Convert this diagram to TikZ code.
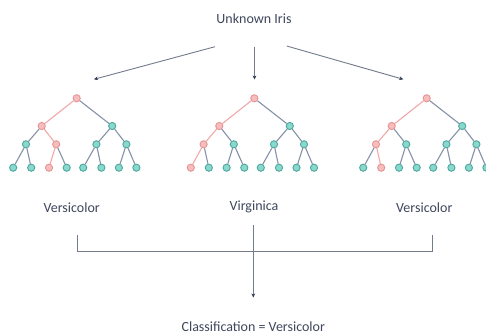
\documentclass[tikz,border=0pt]{standalone}
\usepackage{fontspec}
\setmainfont{Carlito}
\usetikzlibrary{arrows.meta}

\definecolor{txt}{HTML}{3E475C}
\definecolor{linec}{HTML}{737B8C}
\definecolor{tipc}{HTML}{2C3550}
\definecolor{edgec}{HTML}{8592A8}
\definecolor{rededge}{HTML}{F2A8A8}
\definecolor{tealfill}{HTML}{88D8CE}
\definecolor{tealdraw}{HTML}{4DA79D}
\definecolor{redfill}{HTML}{F7BDBD}
\definecolor{reddraw}{HTML}{E59494}

\tikzset{
  label/.style={font=\fontsize{14}{16}\selectfont, text=txt, inner sep=1pt},
  conn/.style={draw=linec, line width=0.9pt},
  arr/.style={conn, -{Stealth[length=4pt,width=3.6pt,color=tipc]}},
  tnode/.style={circle, minimum size=7.2pt, inner sep=0pt, fill=tealfill, draw=tealdraw, line width=0.9pt},
  rnode/.style={fill=redfill, draw=reddraw},
  tedge/.style={draw=edgec, line width=1.1pt},
  redge/.style={draw=rededge},
}

% One decision tree with root at horizontal position #2; node names start with #1.
% Per-tree styles "#1-<node>" and "#1-e<node>" (if defined) recolour the decision path.
\newcommand\irisTree[2]{%
  \node[tnode, #1-r/.try]   (#1-r)   at (#2,98.3) {};
  \node[tnode, #1-L/.try]   (#1-L)   at (#2-35,126) {};
  \node[tnode, #1-R/.try]   (#1-R)   at (#2+35.5,126) {};
  \node[tnode, #1-LL/.try]  (#1-LL)  at (#2-50.7,144.3) {};
  \node[tnode, #1-LR/.try]  (#1-LR)  at (#2-20.5,144.3) {};
  \node[tnode, #1-RL/.try]  (#1-RL)  at (#2+19.7,144.3) {};
  \node[tnode, #1-RR/.try]  (#1-RR)  at (#2+49.7,144.3) {};
  \node[tnode, #1-LLL/.try] (#1-LLL) at (#2-63.5,167.7) {};
  \node[tnode, #1-LLR/.try] (#1-LLR) at (#2-45.5,167.7) {};
  \node[tnode, #1-LRL/.try] (#1-LRL) at (#2-27.7,167.7) {};
  \node[tnode, #1-LRR/.try] (#1-LRR) at (#2-10,167.7) {};
  \node[tnode, #1-RLL/.try] (#1-RLL) at (#2+6.5,167.7) {};
  \node[tnode, #1-RLR/.try] (#1-RLR) at (#2+24.7,167.7) {};
  \node[tnode, #1-RRL/.try] (#1-RRL) at (#2+42.2,167.7) {};
  \node[tnode, #1-RRR/.try] (#1-RRR) at (#2+59.7,167.7) {};
  \foreach \p/\c in {r/L, r/R, L/LL, L/LR, R/RL, R/RR,
                     LL/LLL, LL/LLR, LR/LRL, LR/LRR, RL/RLL, RL/RLR, RR/RRL, RR/RRR}
    \draw[tedge, #1-e\c/.try] (#1-\p) -- (#1-\c);
}

\tikzset{
  % decision path of the first tree
  A-r/.style=rnode, A-L/.style=rnode, A-LR/.style=rnode, A-LRL/.style=rnode,
  A-eL/.style=redge, A-eLR/.style=redge, A-eLRL/.style=redge,
  % second tree
  B-r/.style=rnode, B-L/.style=rnode, B-LL/.style=rnode, B-LLL/.style=rnode,
  B-eL/.style=redge, B-eLL/.style=redge, B-eLLL/.style=redge,
  % third tree
  C-r/.style=rnode, C-L/.style=rnode, C-LL/.style=rnode, C-LLR/.style=rnode,
  C-eL/.style=redge, C-eLL/.style=redge, C-eLLR/.style=redge,
}

\begin{document}
\begin{tikzpicture}[x=1pt, y=-1pt]
  \useasboundingbox[fill=white] (0,0) rectangle (486,334);

  \node[label] (iris) at (254,18.3) {Unknown Iris};

  % fan-out to the three trees
  \coordinate (fl0) at (215,46.7);   \coordinate (fl1) at (94,79.3);
  \coordinate (fm0) at (254.5,47);   \coordinate (fm1) at (254.5,79.5);
  \coordinate (fr0) at (286.7,46);   \coordinate (fr1) at (403.3,79.3);
  \draw[arr] (fl0) -- (fl1);
  \draw[arr] (fm0) -- (fm1);
  \draw[arr] (fr0) -- (fr1);

  \irisTree{A}{76.7}
  \irisTree{B}{254.3}
  \irisTree{C}{426.7}

  % votes of the trees
  \node[label] (v1) at (71.7,207.3)  {Versicolor};
  \node[label] (v2) at (254,207.3)   {Virginica};
  \node[label] (v3) at (424.3,207.3) {Versicolor};

  % majority vote bracket
  \coordinate (bl) at (77.7,235);  \coordinate (blc) at (77.7,251);
  \coordinate (br) at (432.3,235); \coordinate (brc) at (432.3,251);
  \coordinate (bm) at (253.3,225); \coordinate (bmt) at (253.3,297.5);
  \draw[conn] (bl) -- (blc) -- (brc) -- (br);
  \draw[arr] (bm) -- (bmt);

  \node[label] (cls) at (253.3,326.7) {Classification = Versicolor};
\end{tikzpicture}
\end{document}
